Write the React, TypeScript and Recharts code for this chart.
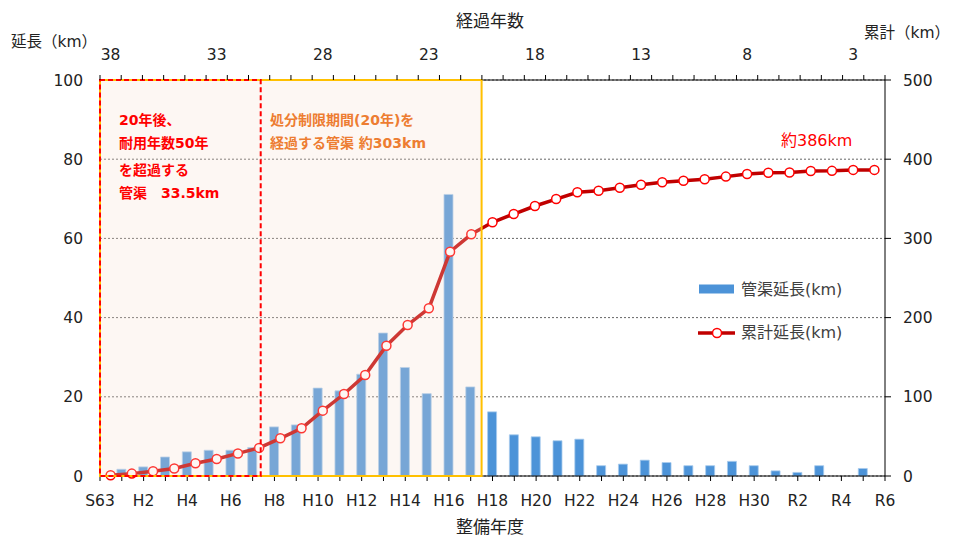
import React from "react";
import {
  Bar,
  CartesianGrid,
  ComposedChart,
  Line,
  ReferenceArea,
  XAxis,
  YAxis,
} from "recharts";

// 整備年度 (bottom axis)
const years = [
  "S63", "H1", "H2", "H3", "H4", "H5", "H6", "H7", "H8", "H9",
  "H10", "H11", "H12", "H13", "H14", "H15", "H16", "H17", "H18", "H19",
  "H20", "H21", "H22", "H23", "H24", "H25", "H26", "H27", "H28", "H29",
  "H30", "R1", "R2", "R3", "R4", "R5", "R6",
];

// 経過年数 (top axis)
const elapsed = [
  38, 37, 36, 35, 34, 33, 32, 31, 30, 29,
  28, 27, 26, 25, 24, 23, 22, 21, 20, 19,
  18, 17, 16, 15, 14, 13, 12, 11, 10, 9,
  8, 7, 6, 5, 4, 3, 2,
];

// 管渠延長(km)
const lengthKm = [
  0, 1.7, 2.3, 4.8, 6.1, 6.5, 6.5, 7.2, 12.4, 12.9,
  22.2, 21.5, 25.7, 36.1, 27.4, 20.8, 71.1, 22.5, 16.2, 10.4,
  9.9, 8.9, 9.3, 2.6, 3.0, 4.0, 3.4, 2.6, 2.6, 3.7,
  2.6, 1.3, 0.9, 2.6, 0, 1.9, 0,
];

// 累計延長(km)
const cumulativeKm = [
  1, 3, 6, 9.5, 16, 21.5, 28.5, 35.5, 47.6, 60.2,
  82.5, 103.5, 127.5, 164.5, 190.7, 211.7, 283.2, 305.2, 320.3, 330.8,
  340.9, 349.7, 358.2, 360.2, 364, 367.8, 370.8, 372.9, 374.6, 378,
  381.3, 383, 383.3, 385.1, 385.3, 386.5, 386.5,
];

const leftTicks = [0, 20, 40, 60, 80, 100];
const rightTicks = [0, 100, 200, 300, 400, 500];

const FONT = '"DejaVu Sans", Verdana, "Noto Sans CJK JP", sans-serif';
const TEXT = "#222";
const BLUE = "#4C93D8";
const DARK_RED = "#C00000";
const RED = "#FF0000";
const ORANGE = "#ED7D31";
const YELLOW = "#FFC000";

const data = years.map((year, i) => ({
  idx: i,
  year,
  elapsed: elapsed[i],
  length: lengthKm[i],
  cum: cumulativeKm[i],
}));

function BottomTick(props: any) {
  const { x, y, payload } = props;
  const i = payload.value;
  if (i % 2 !== 0) return <g />;
  return (
    <text x={x} y={y} dy={23} textAnchor="middle" fill={TEXT} fontSize={15.5}>
      {years[i]}
    </text>
  );
}

function TopTick(props: any) {
  const { x, y, payload, index, width } = props;
  const bw = width / elapsed.length;
  const axisY = y + 7;
  return (
    <g>
      <line x1={x - bw / 2} x2={x - bw / 2} y1={axisY} y2={axisY - 5} stroke="#000" />
      {index === elapsed.length - 1 && (
        <line x1={x + bw / 2} x2={x + bw / 2} y1={axisY} y2={axisY - 5} stroke="#000" />
      )}
      {index % 5 === 0 && (
        <text x={x} y={y} dy={-13} textAnchor="middle" fill={TEXT} fontSize={15.5}>
          {payload.value}
        </text>
      )}
    </g>
  );
}

function Label({
  x,
  right,
  y,
  size,
  color = TEXT,
  bold = false,
  center = false,
  children,
}: {
  x?: number;
  right?: number;
  y: number;
  size: number;
  color?: string;
  bold?: boolean;
  center?: boolean;
  children: React.ReactNode;
}) {
  return (
    <div
      style={{
        position: "absolute",
        left: x,
        right,
        top: y - size * 0.6,
        lineHeight: `${size * 1.2}px`,
        fontSize: size,
        color,
        fontWeight: bold ? 700 : 400,
        whiteSpace: "pre",
        transform: center ? "translateX(-50%)" : undefined,
        pointerEvents: "none",
      }}
    >
      {children}
    </div>
  );
}

export default function App() {
  return (
    <div
      style={{
        position: "absolute",
        left: 0,
        top: 0,
        width: 954,
        height: 537,
        background: "#fff",
        fontFamily: FONT,
      }}
    >
      <ComposedChart
        width={954}
        height={537}
        data={data}
        margin={{ top: 0, right: 0, bottom: 0, left: 0 }}
        style={{ fontFamily: FONT }}
      >
        <XAxis
          xAxisId="b"
          type="number"
          dataKey="idx"
          domain={[0, 36]}
          ticks={data.map((d) => d.idx)}
          interval={0}
          height={61}
          tickSize={5}
          tickMargin={2}
          stroke="#000"
          tick={<BottomTick />}
        />
        <XAxis
          xAxisId="t"
          orientation="top"
          type="category"
          dataKey="elapsed"
          height={80}
          interval={0}
          tickLine={false}
          tickSize={5}
          tickMargin={2}
          stroke="#000"
          tick={<TopTick />}
        />
        <YAxis
          yAxisId="l"
          domain={[0, 100]}
          ticks={leftTicks}
          width={100}
          axisLine={false}
          tickLine={false}
          tickMargin={11}
          tick={{ fill: TEXT, fontSize: 15.5 }}
        />
        <YAxis
          yAxisId="r"
          orientation="right"
          domain={[0, 500]}
          ticks={rightTicks}
          width={69}
          stroke="#000"
          tickSize={6}
          tickMargin={12}
          tick={{ fill: TEXT, fontSize: 15.5 }}
        />
        <CartesianGrid
          xAxisId="b"
          yAxisId="l"
          vertical={false}
          stroke="#666"
          strokeDasharray="2 2"
        />
        <Bar
          xAxisId="b"
          yAxisId="l"
          dataKey="length"
          fill={BLUE}
          stroke="#A8CBEE"
          strokeWidth={0.8}
          barSize={9}
          isAnimationActive={false}
        />
        <Line
          xAxisId="t"
          yAxisId="r"
          dataKey="cum"
          stroke={DARK_RED}
          strokeWidth={3.5}
          dot={{ r: 4.5, fill: "#fff", stroke: RED, strokeWidth: 1.5 }}
          isAnimationActive={false}
        />
        {/* 処分制限期間 shaded box, drawn over the series */}
        <ReferenceArea
          xAxisId="b"
          yAxisId="l"
          x1={0}
          x2={17.5}
          y1={0}
          y2={100}
          fill="#F7DFCF"
          fillOpacity={0.25}
          stroke={YELLOW}
          strokeWidth={2}
          zIndex={1500}
        />
        <ReferenceArea
          xAxisId="b"
          yAxisId="l"
          x1={0}
          x2={7.37}
          y1={0}
          y2={100}
          fill="none"
          stroke={RED}
          strokeWidth={2}
          strokeDasharray="5 3"
          zIndex={1600}
        />
      </ComposedChart>

      <Label x={11} y={42.5} size={15.5}>延長（km）</Label>
      <Label x={490} y={21} size={17} center>経過年数</Label>
      <Label right={4} y={33} size={15.5}>累計（km）</Label>
      <Label x={490} y={527} size={17} center>整備年度</Label>

      <Label x={119} y={120} size={14} color={RED} bold>20年後、</Label>
      <Label x={119} y={143.3} size={14} color={RED} bold>耐用年数50年</Label>
      <Label x={119} y={170} size={14} color={RED} bold>を超過する</Label>
      <Label x={119} y={193.3} size={14} color={RED} bold>管渠　33.5km</Label>

      <Label x={270} y={120} size={14} color={ORANGE} bold>処分制限期間(20年)を</Label>
      <Label x={270} y={143.3} size={14} color={ORANGE} bold>経過する管渠 約303km</Label>

      <Label x={781} y={141} size={16} color={RED}>約386km</Label>

      {/* legend */}
      <svg
        width={40}
        height={60}
        style={{ position: "absolute", left: 697, top: 280, pointerEvents: "none" }}
      >
        <rect x={2} y={4.5} width={35} height={9} fill={BLUE} />
        <line x1={1} x2={38} y1={53} y2={53} stroke={DARK_RED} strokeWidth={3.5} />
        <circle cx={20} cy={53} r={4.5} fill="#fff" stroke={RED} strokeWidth={1.5} />
      </svg>
      <Label x={741} y={290} size={16} color="#404040">管渠延長(km)</Label>
      <Label x={741} y={333} size={16} color="#404040">累計延長(km)</Label>
    </div>
  );
}
